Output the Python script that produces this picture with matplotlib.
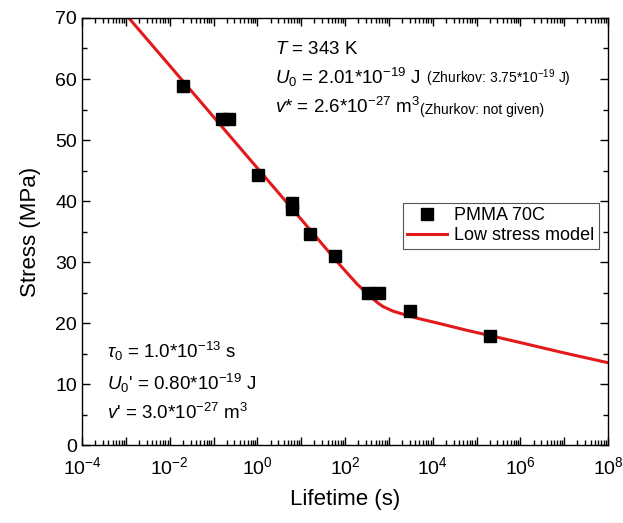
import math
import matplotlib
matplotlib.use("Agg")
import matplotlib.pyplot as plt
from matplotlib.ticker import LogLocator, FixedLocator, MultipleLocator, NullFormatter, FuncFormatter

plt.rcParams['font.family'] = ['Liberation Sans', 'DejaVu Sans']
plt.rcParams['mathtext.fontset'] = 'custom'
plt.rcParams['mathtext.rm'] = 'Liberation Sans'
plt.rcParams['mathtext.it'] = 'Liberation Sans:italic'

# Measured lifetimes (s) and applied stress (MPa) for PMMA at 70 C
lifetime = [0.02, 0.155, 0.22, 1.05, 6.2, 6.2, 16, 60, 330, 600, 3000, 2.0e5]
stress = [58.9, 53.5, 53.5, 44.3, 39.7, 38.7, 34.6, 31.0, 25.0, 25.0, 22.0, 17.9]

# Low stress model curve
model_t = [1.17e-3, 1e-2, 1e-1, 1e0, 1e1, 77, 188, 300, 414, 560, 736, 1200,
           1800, 4400, 1.47e4, 6.1e4, 2.04e5, 1e6, 1e7, 1e8]
model_s = [70.0, 62.2, 53.8, 45.4, 37.0, 29.5, 26.4, 25.0, 24.1, 23.3, 22.7,
           22.0, 21.6, 20.8, 19.9, 18.8, 17.95, 16.8, 15.1, 13.5]

fig = plt.figure(figsize=(6.23, 5.23), dpi=100)
ax = fig.add_axes([0.1316, 0.149, 0.8444, 0.8166])

ax.plot(model_t, model_s, color='#e31a1c', lw=2.2, zorder=2,
        solid_joinstyle='round', label='Low stress model')
ax.plot(lifetime, stress, ls='none', marker='s', ms=8.5, color='black', zorder=3,
        label='PMMA 70C')

ax.set_xscale('log')
ax.set_xlim(1e-4, 1e8)
ax.set_ylim(0, 70)

ax.xaxis.set_major_locator(FixedLocator([10.0**k for k in range(-4, 9)]))
ax.xaxis.set_minor_locator(LogLocator(base=10, subs=range(2, 10), numticks=100))
ax.xaxis.set_minor_formatter(NullFormatter())


def xfmt(v, pos):
    k = int(round(math.log10(v)))
    if k % 2 != 0:
        return ''
    return r'$\mathregular{10^{%d}}$' % k


ax.xaxis.set_major_formatter(FuncFormatter(xfmt))
ax.yaxis.set_major_locator(MultipleLocator(10))
ax.yaxis.set_minor_locator(MultipleLocator(5))

ax.tick_params(which='both', direction='in', top=True, right=True,
               labelsize=14, width=1.0)
ax.tick_params(which='major', length=6)
ax.tick_params(which='minor', length=3.5)
ax.tick_params(axis='x', which='major', pad=8)
for s in ax.spines.values():
    s.set_linewidth(1.0)

ax.set_xlabel('Lifetime (s)', fontsize=16, labelpad=8)
ax.set_ylabel('Stress (MPa)', fontsize=16, labelpad=10)

fs = 13.5
sm = 10
x0 = 0.367
ax.text(x0, 0.915, r'$\mathit{T}$ = 343 K', transform=ax.transAxes, fontsize=fs)
u0 = ax.text(x0, 0.845, r'$\mathit{U}_{\mathregular{0}}$ = 2.01*10$^{\mathregular{-19}}$ J',
             transform=ax.transAxes, fontsize=fs)
ax.annotate(r' (Zhurkov: 3.75*10$^{\mathregular{-19}}$ J)', xy=(1, 0), xycoords=u0,
            xytext=(2, 0), textcoords='offset points', fontsize=sm, va='bottom')
vs = ax.text(x0, 0.778, r'$\mathit{v}$* = 2.6*10$^{\mathregular{-27}}$ m$^{\mathregular{3}}$',
             transform=ax.transAxes, fontsize=fs)
ax.annotate('(Zhurkov: not given)', xy=(1, 0), xycoords=vs,
            xytext=(0, 0), textcoords='offset points', fontsize=sm, va='bottom')

ax.text(0.048, 0.205, r'$\mathit{\tau}_{\mathregular{0}}$ = 1.0*10$^{\mathregular{-13}}$ s',
        transform=ax.transAxes, fontsize=fs)
ax.text(0.048, 0.128, r"$\mathit{U}_{\mathregular{0}}$' = 0.80*10$^{\mathregular{-19}}$ J",
        transform=ax.transAxes, fontsize=fs)
ax.text(0.048, 0.060, r"$\mathit{v}$' = 3.0*10$^{\mathregular{-27}}$ m$^{\mathregular{3}}$",
        transform=ax.transAxes, fontsize=fs)

handles, labels = ax.get_legend_handles_labels()
leg = ax.legend(handles[::-1], labels[::-1], loc='upper left',
                bbox_to_anchor=(0.61, 0.567), fontsize=13, frameon=True,
                fancybox=False, edgecolor='#555555', framealpha=1,
                handlelength=2.2, borderpad=0.25, labelspacing=0.15,
                handletextpad=0.4, borderaxespad=0)
leg.get_frame().set_linewidth(0.8)

fig.savefig('out.png', dpi=100)
